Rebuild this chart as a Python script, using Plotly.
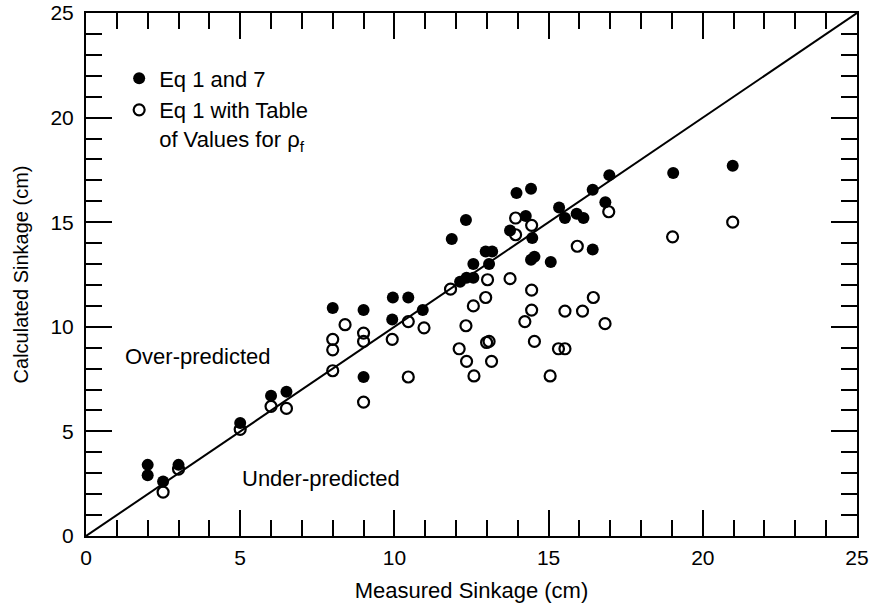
import plotly.graph_objects as go

# Eq 1 and 7 (filled)
meas_eq17 = [2.0, 2.0, 2.5, 3.0, 5.0, 6.0, 6.5, 8.0, 9.0, 9.0,
             9.95, 10.45, 10.92, 9.93, 11.86, 12.32, 12.56, 12.13, 12.34, 12.56,
             12.96, 13.17, 13.07, 13.96, 14.43, 13.75, 14.26, 14.47, 14.43, 14.54,
             15.07, 15.34, 15.53, 15.91, 16.13, 16.43, 16.43, 16.84, 16.97, 19.04, 20.97]
calc_eq17 = [3.4, 2.9, 2.6, 3.4, 5.4, 6.7, 6.9, 10.9, 10.8, 7.6,
             11.4, 11.4, 10.8, 10.35, 14.2, 15.1, 13.0, 12.15, 12.35, 12.35,
             13.6, 13.6, 13.0, 16.4, 16.6, 14.6, 15.3, 14.25, 13.2, 13.35,
             13.1, 15.7, 15.2, 15.4, 15.2, 16.55, 13.7, 15.95, 17.25, 17.35, 17.7]

# Eq 1 with Table of Values for rho_f (open)
meas_tab = [2.5, 3.0, 5.0, 6.0, 6.5, 8.0, 8.0, 8.0, 8.4, 9.0, 9.0, 9.0,
            10.45, 10.96, 9.93, 10.45, 11.82, 13.02, 12.96, 12.56, 12.32, 12.1,
            12.34, 12.58, 12.99, 13.07, 13.15, 13.75, 13.93, 13.93, 14.45, 14.45,
            14.45, 14.23, 14.54, 15.05, 15.32, 15.53, 15.53, 15.93, 16.1, 16.45,
            16.83, 16.95, 19.02, 20.97]
calc_tab = [2.1, 3.2, 5.1, 6.2, 6.1, 7.9, 8.9, 9.4, 10.1, 9.7, 9.3, 6.4,
            10.25, 9.95, 9.4, 7.6, 11.8, 12.25, 11.4, 11.0, 10.05, 8.95,
            8.35, 7.65, 9.25, 9.3, 8.35, 12.3, 15.2, 14.4, 14.85, 11.75,
            10.8, 10.25, 9.3, 7.65, 8.95, 8.95, 10.75, 13.85, 10.75, 11.4,
            10.15, 15.5, 14.3, 15.0]

line_xy = [0, 25]

font = "Liberation Sans, Arial, Helvetica, sans-serif"

fig = go.Figure()
fig.add_trace(go.Scatter(x=line_xy, y=line_xy, mode="lines",
                         line=dict(color="black", width=2), showlegend=False,
                         hoverinfo="skip"))
fig.add_trace(go.Scatter(x=meas_eq17, y=calc_eq17, mode="markers",
                         name="Eq 1 and 7",
                         marker=dict(symbol="circle", size=12, color="black",
                                     line=dict(width=0))))
fig.add_trace(go.Scatter(x=meas_tab, y=calc_tab, mode="markers",
                         name="Eq 1 with Table<br>of Values for ρ<sub>f</sub>",
                         marker=dict(symbol="circle-open", size=11, color="black",
                                     line=dict(width=2.2, color="black"))))

axis_common = dict(
    range=[0, 25], dtick=5, tick0=0, ticks="inside", ticklen=26, tickwidth=2,
    tickcolor="black", showline=True, linewidth=2, linecolor="black",
    mirror="ticks", showgrid=False, zeroline=False, automargin=False,
    tickfont=dict(family=font, size=21, color="black"),
    minor=dict(dtick=1, tick0=0, ticks="inside", ticklen=16, tickwidth=2,
               tickcolor="black", showgrid=False),
)

fig.update_layout(
    width=870, height=605,
    margin=dict(l=86, r=13, t=13, b=69),
    paper_bgcolor="white", plot_bgcolor="white",
    font=dict(family=font, size=20, color="black"),
    xaxis=dict(axis_common, ticklabelstandoff=2,
               title=dict(text="Measured Sinkage (cm)",
                          font=dict(family=font, size=22), standoff=14)),
    yaxis=dict(axis_common, ticklabelstandoff=6,
               title=dict(text="Calculated Sinkage (cm)",
                          font=dict(family=font, size=20), standoff=16)),
    legend=dict(x=0.043, y=0.915, xanchor="left", yanchor="top",
                bgcolor="rgba(0,0,0,0)", borderwidth=0, valign="top",
                font=dict(family=font, size=22, color="black"),
                itemwidth=30, tracegroupgap=2),
    annotations=[
        dict(x=3.63, y=8.56, xref="x", yref="y", text="Over-predicted",
             showarrow=False, font=dict(family=font, size=22, color="black")),
        dict(x=7.62, y=2.77, xref="x", yref="y", text="Under-predicted",
             showarrow=False, font=dict(family=font, size=22, color="black")),
    ],
)

fig.write_html("out.html")
